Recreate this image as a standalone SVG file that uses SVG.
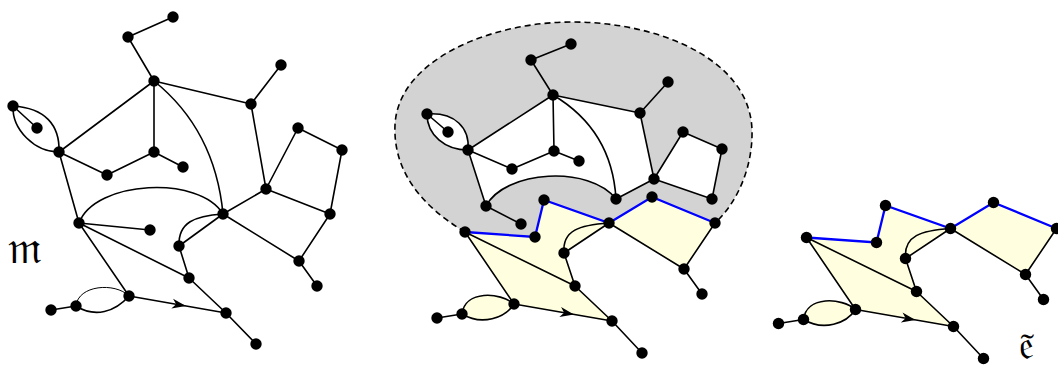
<svg xmlns="http://www.w3.org/2000/svg" xmlns:xlink="http://www.w3.org/1999/xlink" width="1058" height="367" viewBox="0 0 1058 367">
<style>
.e{fill:none;stroke:#000;stroke-width:1.6}
.t{fill:none;stroke:#000;stroke-width:1}
.b{fill:none;stroke:#0000ff;stroke-width:2.3}
.n{fill:#000}
.y{fill:#ffffe0;stroke:none}
.g{fill:#d3d3d3;stroke:none}
.w{fill:#fff;stroke:none}
.lab{font-family:"DejaVu Serif","DejaVu Sans","Noto Sans",serif;fill:#000}
</style>
<defs>
<path id="ah" d="M0,0 L-14,-5 L-10,0 L-14,5 Z" fill="#000"/>
<circle id="dot" r="5.7" class="n"/>
</defs>
<rect width="1058" height="367" fill="#fff"/>

<!-- ===== Left map ===== -->
<g id="left-connectors">
<path class="e" d="M173,17 L128,37 M128,37 L154,81 M154,81 L59,152 M154,81 L154,152 M154,81 L251,104 M251,104 L281,65 M251,104 L266,189 M13,106 L37,128 M59,152 L107,175 M107,175 L154,152 M154,152 L183,167 M59,152 L79,223 M298,128 L266,189 M298,128 L342,150 M342,150 L330,214 M266,189 L223,214 M266,189 L330,214 M330,214 L299,261 M223,214 L299,261 M299,261 L317,286 M79,223 L150,230 M79,223 L189,278 M79,223 L129,296 M223,214 L179,246 M179,246 L189,278 M189,278 L226,313 M226,313 L256,344 M129,296 L226,313 M76,306 L51,310"/>
<path class="e" d="M154,81 Q215,130 223,214"/>
<path class="e" d="M79,223 C95,180 200,175 223,214"/>
<path class="e" d="M13,106 C45,108 60,125 59,152"/>
<path class="e" d="M13,106 C12,130 35,152 59,152"/>
<path class="e" d="M223,214 C195,216 178,222 179,246"/>
<path class="t" d="M76,306 C78,285 115,282 129,296"/>
<path class="e" d="M76,306 C95,318 115,312 129,296"/>
<use xlink:href="#ah" transform="translate(186,306) rotate(9.94)"/>
</g>
<g id="left-nodes">
<g id="m-A"><use xlink:href="#dot" x="173" y="17"/></g>
<g id="m-B"><use xlink:href="#dot" x="128" y="37"/></g>
<g id="m-C"><use xlink:href="#dot" x="154" y="81"/></g>
<g id="m-D"><use xlink:href="#dot" x="281" y="65"/></g>
<g id="m-E"><use xlink:href="#dot" x="251" y="104"/></g>
<g id="m-F"><use xlink:href="#dot" x="13" y="106"/></g>
<g id="m-G"><use xlink:href="#dot" x="37" y="128"/></g>
<g id="m-H"><use xlink:href="#dot" x="59" y="152"/></g>
<g id="m-I"><use xlink:href="#dot" x="154" y="152"/></g>
<g id="m-J"><use xlink:href="#dot" x="183" y="167"/></g>
<g id="m-K"><use xlink:href="#dot" x="107" y="175"/></g>
<g id="m-L"><use xlink:href="#dot" x="298" y="128"/></g>
<g id="m-M"><use xlink:href="#dot" x="342" y="150"/></g>
<g id="m-N"><use xlink:href="#dot" x="266" y="189"/></g>
<g id="m-O"><use xlink:href="#dot" x="223" y="214"/></g>
<g id="m-P"><use xlink:href="#dot" x="330" y="214"/></g>
<g id="m-Q"><use xlink:href="#dot" x="79" y="223"/></g>
<g id="m-R"><use xlink:href="#dot" x="150" y="230"/></g>
<g id="m-S"><use xlink:href="#dot" x="179" y="246"/></g>
<g id="m-T"><use xlink:href="#dot" x="299" y="261"/></g>
<g id="m-U"><use xlink:href="#dot" x="189" y="278"/></g>
<g id="m-V"><use xlink:href="#dot" x="317" y="286"/></g>
<g id="m-W"><use xlink:href="#dot" x="129" y="296"/></g>
<g id="m-X"><use xlink:href="#dot" x="76" y="306"/></g>
<g id="m-Y"><use xlink:href="#dot" x="51" y="310"/></g>
<g id="m-Z"><use xlink:href="#dot" x="226" y="313"/></g>
<g id="m-AA"><use xlink:href="#dot" x="256" y="344"/></g>
</g>
<text class="lab" x="8" y="263" font-size="45">𝔪</text>

<!-- ===== Middle map ===== -->
<g id="middle-regions">
<path class="g" d="M465,232 C420,205 393,170 395,125 C398,60 490,22 572,22 C660,22 750,60 752,130 C753,170 735,205 715,223 L652,197 L609,223 L544,200 L535,237 Z"/>
<path class="w" d="M553,95 L640,113 L654,179 L616,199 C590,165 505,170 486,206 L468,150 Z"/>
<path class="w" d="M427,114 C455,112 470,128 468,150 C445,150 427,135 427,114 Z"/>
<path class="w" d="M683,132 L722,149 L712,199 L654,179 Z"/>
<path class="e" stroke-dasharray="6,4" d="M465,232 C420,205 393,170 395,125 C398,60 490,22 572,22 C660,22 750,60 752,130 C753,170 735,205 715,223"/>
</g>
<g id="middle-connectors">
<path class="e" d="M571,44 L531,60 M531,60 L553,95 M553,95 L468,150 M553,95 L554,151 M553,95 L640,113 M640,113 L668,82 M640,113 L654,179 M427,114 L448,132 M468,150 L512,169 M512,169 L554,151 M554,151 L579,161 M468,150 L486,206 M486,206 L521,224 M616,199 L654,179 M654,179 L712,199 M654,179 L683,132 M683,132 L722,149 M722,149 L712,199"/>
<path class="e" d="M553,95 Q612,130 616,199"/>
<path class="e" d="M486,206 C505,170 590,165 616,199"/>
<path class="e" d="M427,114 C455,112 470,128 468,150"/>
<path class="e" d="M427,114 C427,135 445,150 468,150"/>
</g>
<g id="middle-nodes">
<g id="c-A"><use xlink:href="#dot" x="571" y="44"/></g>
<g id="c-B"><use xlink:href="#dot" x="531" y="60"/></g>
<g id="c-C"><use xlink:href="#dot" x="553" y="95"/></g>
<g id="c-D"><use xlink:href="#dot" x="668" y="82"/></g>
<g id="c-E"><use xlink:href="#dot" x="640" y="113"/></g>
<g id="c-F"><use xlink:href="#dot" x="427" y="114"/></g>
<g id="c-G"><use xlink:href="#dot" x="448" y="132"/></g>
<g id="c-H"><use xlink:href="#dot" x="468" y="150"/></g>
<g id="c-I"><use xlink:href="#dot" x="554" y="151"/></g>
<g id="c-J"><use xlink:href="#dot" x="579" y="161"/></g>
<g id="c-K"><use xlink:href="#dot" x="512" y="169"/></g>
<g id="c-L"><use xlink:href="#dot" x="683" y="132"/></g>
<g id="c-M"><use xlink:href="#dot" x="722" y="149"/></g>
<g id="c-N"><use xlink:href="#dot" x="654" y="179"/></g>
<g id="c-P"><use xlink:href="#dot" x="712" y="199"/></g>
<g id="c-O"><use xlink:href="#dot" x="616" y="199"/></g>
<g id="c-Q"><use xlink:href="#dot" x="486" y="206"/></g>
<g id="c-R"><use xlink:href="#dot" x="521" y="224"/></g>
</g>

<!-- lower (yellow) part of middle map -->
<g id="mid-lower-regions">
<path class="y" d="M465,232 L535,237 L544,200 L609,223 L564,253 L575,286 L612,321 L514,304 Z"/>
<path class="y" d="M462,314 C465,290 500,292 514,304 C505,318 482,326 462,314 Z"/>
<path class="y" d="M609,223 L652,197 L715,223 L684,269 Z"/>
</g>
<g id="mid-lower-connectors">
<path class="b" d="M465,232 L535,237 L544,200 L609,223 L652,197 L715,223"/>
<path class="e" d="M465,232 L575,286 M465,232 L514,304 M609,223 L564,253 M564,253 L575,286 M575,286 L612,321 M612,321 L642,353 M514,304 L612,321 M462,314 L437,318 M609,223 L684,269 M715,223 L684,269 M684,269 L702,294"/>
<path class="e" d="M609,223 C580,225 562,230 564,253"/>
<path class="e" d="M462,314 C465,290 500,292 514,304"/>
<path class="e" d="M462,314 C482,326 505,318 514,304"/>
<use xlink:href="#ah" transform="translate(574,314.4) rotate(9.84)"/>
</g>
<g id="mid-lower-nodes">
<g id="c-Q2"><use xlink:href="#dot" x="465" y="232"/></g>
<g id="c-V2"><use xlink:href="#dot" x="535" y="237"/></g>
<g id="c-V1"><use xlink:href="#dot" x="544" y="200"/></g>
<g id="c-O2"><use xlink:href="#dot" x="609" y="223"/></g>
<g id="c-N2"><use xlink:href="#dot" x="652" y="197"/></g>
<g id="c-P2"><use xlink:href="#dot" x="715" y="223"/></g>
<g id="c-S2"><use xlink:href="#dot" x="564" y="253"/></g>
<g id="c-U2"><use xlink:href="#dot" x="575" y="286"/></g>
<g id="c-T2"><use xlink:href="#dot" x="684" y="269"/></g>
<g id="c-VV2"><use xlink:href="#dot" x="702" y="294"/></g>
<g id="c-W2"><use xlink:href="#dot" x="514" y="304"/></g>
<g id="c-X2"><use xlink:href="#dot" x="462" y="314"/></g>
<g id="c-Y2"><use xlink:href="#dot" x="437" y="318"/></g>
<g id="c-Z2"><use xlink:href="#dot" x="612" y="321"/></g>
<g id="c-AA2"><use xlink:href="#dot" x="642" y="353"/></g>
</g>

<!-- ===== Right map ===== -->
<g transform="translate(341.5,5.5)">
<g id="right-regions">
<path class="y" d="M465,232 L535,237 L544,200 L609,223 L564,253 L575,286 L612,321 L514,304 Z"/>
<path class="y" d="M462,314 C465,290 500,292 514,304 C505,318 482,326 462,314 Z"/>
<path class="y" d="M609,223 L652,197 L715,223 L684,269 Z"/>
</g>
<g id="right-connectors">
<path class="b" d="M465,232 L535,237 L544,200 L609,223 L652,197 L715,223"/>
<path class="e" d="M465,232 L575,286 M465,232 L514,304 M609,223 L564,253 M564,253 L575,286 M575,286 L612,321 M612,321 L642,353 M514,304 L612,321 M462,314 L437,318 M609,223 L684,269 M715,223 L684,269 M684,269 L702,294"/>
<path class="e" d="M609,223 C580,225 562,230 564,253"/>
<path class="e" d="M462,314 C465,290 500,292 514,304"/>
<path class="e" d="M462,314 C482,326 505,318 514,304"/>
<use xlink:href="#ah" transform="translate(574,314.4) rotate(9.84)"/>
</g>
<g id="right-nodes">
<g id="e-Q2"><use xlink:href="#dot" x="465" y="232"/></g>
<g id="e-V2"><use xlink:href="#dot" x="535" y="237"/></g>
<g id="e-V1"><use xlink:href="#dot" x="544" y="200"/></g>
<g id="e-O2"><use xlink:href="#dot" x="609" y="223"/></g>
<g id="e-N2"><use xlink:href="#dot" x="652" y="197"/></g>
<g id="e-P2"><use xlink:href="#dot" x="715" y="223"/></g>
<g id="e-S2"><use xlink:href="#dot" x="564" y="253"/></g>
<g id="e-U2"><use xlink:href="#dot" x="575" y="286"/></g>
<g id="e-T2"><use xlink:href="#dot" x="684" y="269"/></g>
<g id="e-VV2"><use xlink:href="#dot" x="702" y="294"/></g>
<g id="e-W2"><use xlink:href="#dot" x="514" y="304"/></g>
<g id="e-X2"><use xlink:href="#dot" x="462" y="314"/></g>
<g id="e-Y2"><use xlink:href="#dot" x="437" y="318"/></g>
<g id="e-Z2"><use xlink:href="#dot" x="612" y="321"/></g>
<g id="e-AA2"><use xlink:href="#dot" x="642" y="353"/></g>
</g>
</g>
<text class="lab" x="1019" y="359" font-size="40">𝔢̃</text>
</svg>
